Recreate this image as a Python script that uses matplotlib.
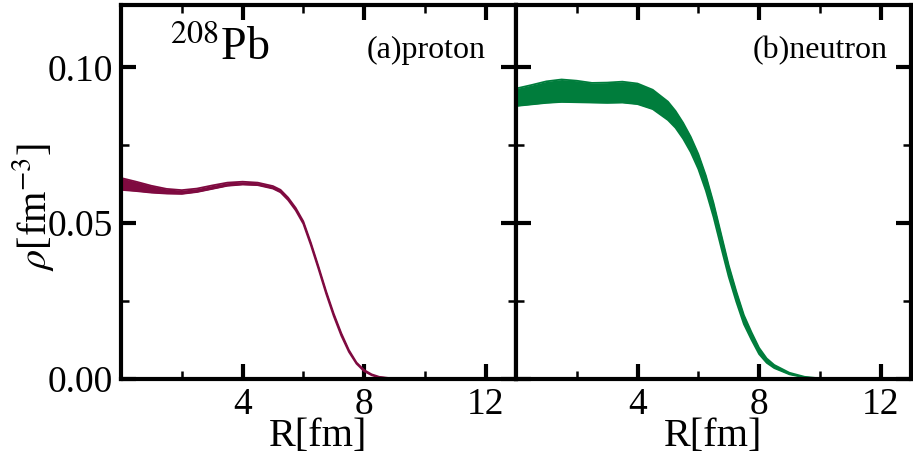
import numpy as np
import matplotlib
matplotlib.use("Agg")
from matplotlib import pyplot as plt
from matplotlib.ticker import MultipleLocator

plt.rcParams['font.family'] = ['Liberation Serif', 'DejaVu Serif']
plt.rcParams['mathtext.fontset'] = 'stix'

# proton density band, 208Pb
r_p = [0.0, 0.5, 1.0, 1.5, 2.0, 2.5, 3.0, 3.5, 4.0, 4.5, 5.0, 5.25, 5.5, 5.75,
       6.0, 6.25, 6.5, 6.75, 7.0, 7.25, 7.5, 7.75, 8.0, 8.25, 8.5, 9.0, 9.5, 13.0]
p_hi = [0.0645, 0.0633, 0.0620, 0.0610, 0.0606, 0.0611, 0.0621, 0.0630, 0.0633, 0.0630,
        0.0619, 0.0607, 0.0582, 0.0549, 0.0506, 0.0437, 0.0361, 0.0282, 0.0210, 0.0147,
        0.0093, 0.0053, 0.0029, 0.0015, 0.0007, 0.0001, 0.0, 0.0]
p_lo = [0.0607, 0.0603, 0.0598, 0.0595, 0.0594, 0.0600, 0.0610, 0.0620, 0.0624, 0.0622,
        0.0611, 0.0599, 0.0574, 0.0541, 0.0498, 0.0429, 0.0353, 0.0274, 0.0202, 0.0139,
        0.0087, 0.0049, 0.0025, 0.0012, 0.0005, 0.0001, 0.0, 0.0]

# neutron density band
r_n = [0.0, 0.5, 1.0, 1.5, 2.0, 2.5, 3.0, 3.5, 4.0, 4.5, 5.0, 5.25, 5.5, 5.75,
       6.0, 6.25, 6.5, 6.75, 7.0, 7.25, 7.5, 7.75, 8.0, 8.25, 8.5, 9.0, 9.5, 10.0, 10.5, 13.0]
n_hi = [0.0932, 0.0943, 0.0955, 0.0961, 0.0957, 0.0950, 0.0951, 0.0954, 0.0948, 0.0928,
        0.0890, 0.0860, 0.0822, 0.0777, 0.0722, 0.0652, 0.0565, 0.0465, 0.0365, 0.0281,
        0.0205, 0.0150, 0.0100, 0.0066, 0.0045, 0.0020, 0.0007, 0.0002, 0.0, 0.0]
n_lo = [0.0876, 0.0881, 0.0886, 0.0889, 0.0888, 0.0887, 0.0886, 0.0887, 0.0882, 0.0866,
        0.0831, 0.0806, 0.0771, 0.0728, 0.0674, 0.0604, 0.0520, 0.0423, 0.0328, 0.0248,
        0.0176, 0.0126, 0.0080, 0.0052, 0.0035, 0.0015, 0.0005, 0.0001, 0.0, 0.0]

c_p = '#7f0a40'
c_n = '#007d3c'

fig = plt.figure(figsize=(9.13, 4.61), dpi=100)
W, H = 913, 461
ax1 = fig.add_axes([121 / W, 82 / H, 395 / W, 374 / H])
ax2 = fig.add_axes([516 / W, 82 / H, 395 / W, 374 / H])

for ax, r, hi, lo, c in [(ax1, r_p, p_hi, p_lo, c_p), (ax2, r_n, n_hi, n_lo, c_n)]:
    ax.fill_between(r, lo, hi, color=c, lw=0)
    ax.plot(r, hi, color=c, lw=1.3, solid_joinstyle='round')
    ax.plot(r, lo, color=c, lw=1.3, solid_joinstyle='round')
    ax.set_xlim(0, 13)
    ax.set_ylim(0, 0.12)
    ax.xaxis.set_major_locator(MultipleLocator(4))
    ax.xaxis.set_minor_locator(MultipleLocator(2))
    ax.yaxis.set_major_locator(MultipleLocator(0.05))
    ax.yaxis.set_minor_locator(MultipleLocator(0.025))
    ax.set_xticks([4, 8, 12])
    ax.tick_params(which='both', direction='in', top=True, right=True, labelsize=27)
    ax.tick_params(which='major', length=11, width=3, pad=6)
    ax.tick_params(which='minor', length=6, width=1.8)
    for s in ax.spines.values():
        s.set_linewidth(3)
    ax.set_xlabel('R[fm]', fontsize=29, labelpad=-3)

ax1.yaxis.set_major_formatter(matplotlib.ticker.FormatStrFormatter('%.2f'))
ax1.set_ylabel(r'$\rho$[fm$^{-3}$]', fontsize=29)
ax1.yaxis.set_label_coords(-0.165, 0.46)
ax2.tick_params(labelleft=False)

ax1.text(0.125, 0.855, r'$^{208}$Pb', transform=ax1.transAxes, fontsize=33)
ax1.text(0.922, 0.858, '(a)proton', transform=ax1.transAxes, fontsize=23, ha='right')
ax2.text(0.942, 0.858, '(b)neutron', transform=ax2.transAxes, fontsize=23, ha='right')

fig.savefig('out.png', dpi=100)
